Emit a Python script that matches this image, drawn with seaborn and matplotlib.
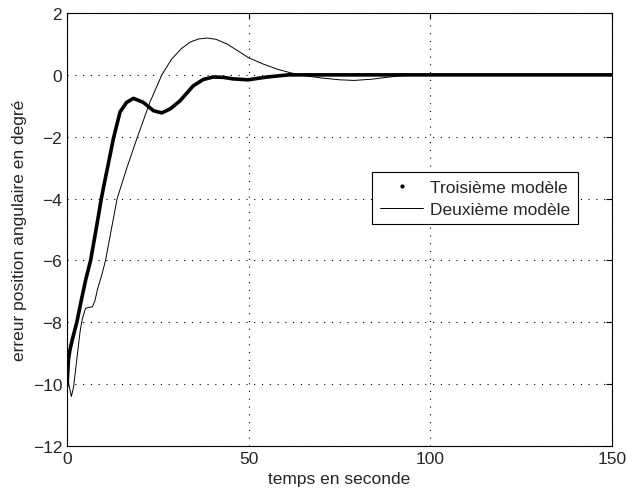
import pandas as pd
import seaborn as sns
import matplotlib.pyplot as plt
from matplotlib.lines import Line2D

# Deuxième modèle (thin line)
t_deux = [0, 0.5, 1.2, 1.8, 2.7, 3.6, 4.2, 5.1, 6.0, 7.0, 7.7, 8.35, 9.5, 10.6, 12.2,
          13.8, 16.5, 19.2, 22.8, 26.1, 28.8, 31.5, 33.9, 36.2, 38.5, 41, 44, 47, 50,
          54, 58, 61.4, 65, 70, 75, 79, 84, 88, 92, 96, 100, 150]
err_deux = [-9.6, -10.0, -10.4, -10.1, -9.2, -8.3, -7.9, -7.55, -7.52, -7.5, -7.3, -6.95,
            -6.5, -6.0, -5.0, -4.0, -3.0, -2.07, -0.89, 0.0, 0.51, 0.85, 1.06, 1.16, 1.19,
            1.15, 1.0, 0.78, 0.55, 0.35, 0.18, 0.07, -0.02, -0.1, -0.16, -0.18, -0.14,
            -0.08, -0.03, 0.0, 0.0, 0.0]

# Troisième modèle (thick line)
t_trois = [0, 0.4, 0.8, 1.5, 2.7, 4.0, 5.2, 6.5, 8.0, 9.45, 10.2, 11.5, 12.75, 14.6, 16.4,
           18.3, 21, 23.8, 26.1, 28.4, 31.1, 34.7, 37.5, 40.2, 43, 45.7, 49.8, 55, 61,
           70, 150]
err_trois = [-10.05, -9.2, -8.9, -8.54, -8.0, -7.25, -6.6, -6.0, -5.0, -4.0, -3.55, -2.8,
             -2.07, -1.2, -0.89, -0.76, -0.89, -1.16, -1.23, -1.1, -0.84, -0.36, -0.15,
             -0.07, -0.08, -0.13, -0.16, -0.07, 0.0, 0.0, 0.0]

x_ticks = [0, 50, 100, 150]
y_ticks = [-12, -10, -8, -6, -4, -2, 0, 2]

sns.set_style("white")
plt.rcParams['font.family'] = ['Liberation Sans', 'DejaVu Sans']

df_deux = pd.DataFrame({'t': t_deux, 'err': err_deux})
df_trois = pd.DataFrame({'t': t_trois, 'err': err_trois})

fig = plt.figure(figsize=(6.27, 4.89), dpi=100)
ax = fig.add_axes([67 / 627, 1 - 447 / 489, 545 / 627, 433 / 489])

sns.lineplot(data=df_trois, x='t', y='err', ax=ax, color='black', linewidth=2.6, sort=False)
sns.lineplot(data=df_deux, x='t', y='err', ax=ax, color='black', linewidth=0.7, sort=False)

ax.set_xlim(0, 150)
ax.set_ylim(-12, 2)
ax.set_xticks(x_ticks)
ax.set_yticks(y_ticks)
ax.grid(True, color='black', linestyle=(0, (1, 6)), linewidth=0.8)
ax.tick_params(direction='in', length=4, top=True, right=True, labelsize=12.5,
               color='black', width=0.8)
for s in ax.spines.values():
    s.set_color('black')
    s.set_linewidth(0.8)

ax.set_xlabel('temps en seconde', fontsize=12.5, labelpad=4)
ax.set_ylabel('erreur position angulaire en degré', fontsize=12.5, labelpad=4)

handles = [Line2D([], [], color='black', marker='.', markersize=4, linestyle='none'),
           Line2D([], [], color='black', linewidth=0.7)]
leg = ax.legend(handles, ['Troisième modèle', 'Deuxième modèle'], loc='upper left',
                bbox_to_anchor=(0.56, 0.633), fontsize=12.5, frameon=True, fancybox=False,
                edgecolor='black', framealpha=1, borderpad=0.45, handlelength=2.5,
                handletextpad=0.4, labelspacing=0.38, borderaxespad=0)
leg.get_frame().set_linewidth(0.8)

fig.savefig('out.png', dpi=100)
